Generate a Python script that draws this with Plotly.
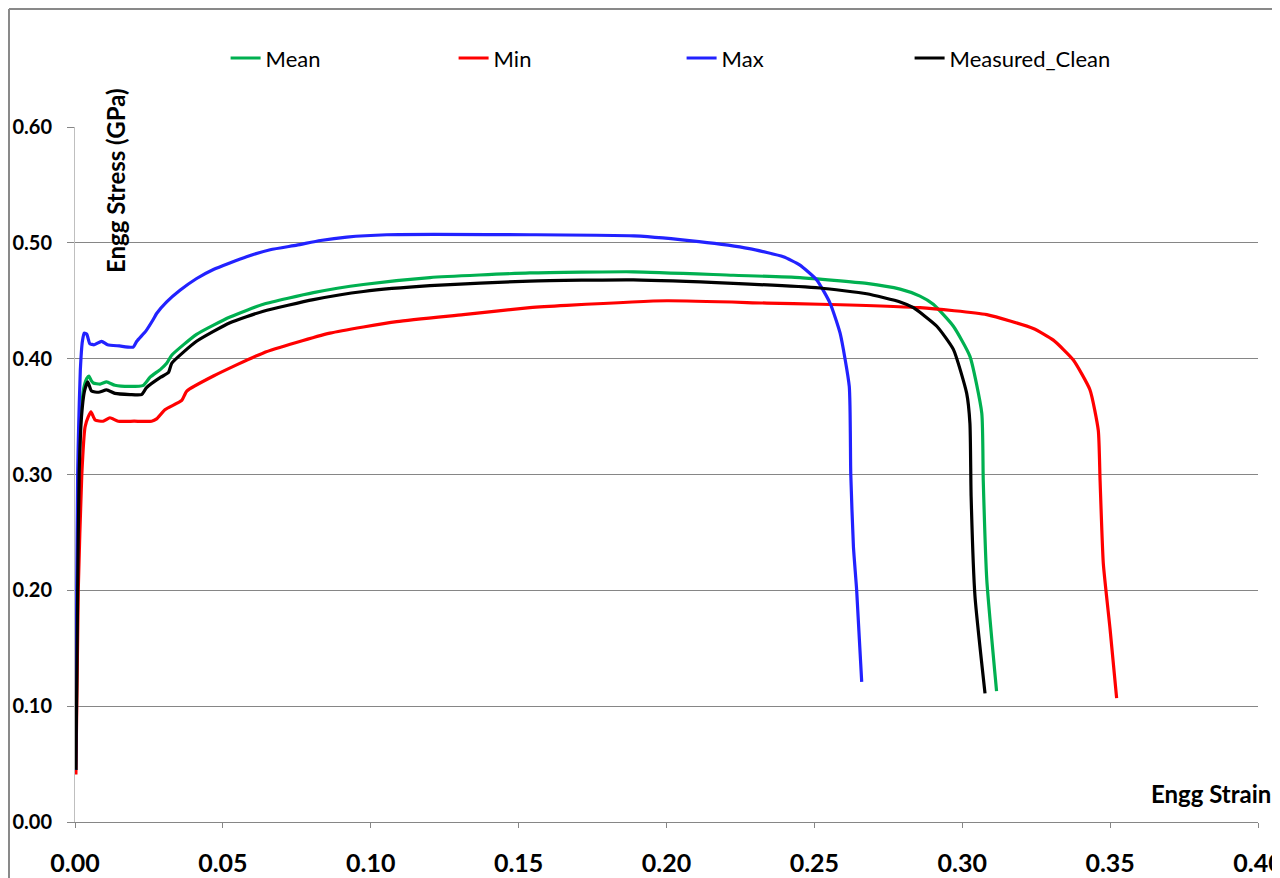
import plotly.graph_objects as go

# values (engineering strain, engineering stress in GPa)
mean_x = [0.0003, 0.0008, 0.0013, 0.0020, 0.0030, 0.0040, 0.0047, 0.0055, 0.0062, 0.0085, 0.0107, 0.0135,
          0.0186, 0.0231, 0.0254, 0.0290, 0.0310, 0.0327, 0.0411, 0.0524, 0.0637, 0.0806, 0.0975, 0.1200,
          0.1538, 0.1888, 0.2226, 0.2451, 0.2677, 0.2790, 0.2857, 0.2902, 0.2970, 0.3026, 0.3066, 0.3071,
          0.3083, 0.3116]
mean_y = [0.045, 0.200, 0.300, 0.350, 0.375, 0.383, 0.385, 0.381, 0.379, 0.378, 0.380, 0.377,
          0.376, 0.377, 0.384, 0.391, 0.396, 0.403, 0.421, 0.436, 0.447, 0.457, 0.464, 0.470,
          0.474, 0.475, 0.472, 0.470, 0.465, 0.460, 0.454, 0.447, 0.428, 0.402, 0.353, 0.295,
          0.209, 0.113]

min_x = [0.0003, 0.0011, 0.0023, 0.0034, 0.0045, 0.0054, 0.0068, 0.0095, 0.0118, 0.0146, 0.0200, 0.0259,
         0.0276, 0.0304, 0.0361, 0.0378, 0.0468, 0.0637, 0.0862, 0.1088, 0.1313, 0.1538, 0.1663, 0.2001,
         0.2339, 0.2519, 0.2857, 0.3083, 0.3240, 0.3308, 0.3375, 0.3432, 0.3460, 0.3466, 0.3477, 0.3500,
         0.3522]
min_y = [0.041, 0.200, 0.300, 0.341, 0.350, 0.354, 0.347, 0.346, 0.349, 0.346, 0.346, 0.346,
         0.348, 0.356, 0.364, 0.372, 0.385, 0.405, 0.422, 0.432, 0.438, 0.444, 0.446, 0.450,
         0.448, 0.447, 0.444, 0.438, 0.426, 0.416, 0.399, 0.373, 0.338, 0.295, 0.223, 0.166,
         0.107]

max_x = [0.0002, 0.0006, 0.0009, 0.0012, 0.0018, 0.0025, 0.0031, 0.0040, 0.0050, 0.0065, 0.0090, 0.0110,
         0.0150, 0.0197, 0.0209, 0.0240, 0.0265, 0.0276, 0.0310, 0.0355, 0.0410, 0.0468, 0.0580, 0.0660,
         0.0750, 0.0830, 0.0919, 0.1054, 0.1540, 0.1890, 0.2110, 0.2280, 0.2395, 0.2450, 0.2508, 0.2553,
         0.2587, 0.2618, 0.2623, 0.2632, 0.2643, 0.2660]
max_y = [0.045, 0.200, 0.300, 0.338, 0.390, 0.415, 0.422, 0.421, 0.413, 0.412, 0.415, 0.412,
         0.411, 0.410, 0.415, 0.424, 0.434, 0.439, 0.449, 0.459, 0.469, 0.477, 0.488, 0.494,
         0.498, 0.502, 0.505, 0.507, 0.507, 0.506, 0.501, 0.495, 0.488, 0.481, 0.468, 0.448,
         0.422, 0.376, 0.301, 0.238, 0.200, 0.121]

meas_x = [0.0003, 0.0009, 0.0014, 0.0022, 0.0032, 0.0043, 0.0056, 0.0080, 0.0107, 0.0135, 0.0186, 0.0225,
          0.0242, 0.0290, 0.0316, 0.0327, 0.0411, 0.0524, 0.0637, 0.0806, 0.0975, 0.1200, 0.1538, 0.1888,
          0.2226, 0.2519, 0.2677, 0.2790, 0.2835, 0.2914, 0.2970, 0.3015, 0.3026, 0.3030, 0.3043, 0.3077]
meas_y = [0.045, 0.200, 0.300, 0.350, 0.372, 0.380, 0.372, 0.371, 0.373, 0.370, 0.369, 0.369,
          0.375, 0.384, 0.388, 0.396, 0.415, 0.431, 0.441, 0.451, 0.458, 0.463, 0.467, 0.468,
          0.465, 0.461, 0.456, 0.449, 0.444, 0.428, 0.408, 0.370, 0.344, 0.281, 0.195, 0.111]

series = [
    ("Mean", mean_x, mean_y, "#00B050"),
    ("Min", min_x, min_y, "#FF0000"),
    ("Max", max_x, max_y, "#2222FF"),
    ("Measured_Clean", meas_x, meas_y, "#000000"),
]

x_ticks = [0.00, 0.05, 0.10, 0.15, 0.20, 0.25, 0.30, 0.35, 0.40]
y_ticks = [0.00, 0.10, 0.20, 0.30, 0.40, 0.50, 0.60]

fig = go.Figure()
for name, xs, ys, col in series:
    fig.add_trace(go.Scatter(x=xs, y=ys, name=name, mode="lines",
                             line=dict(color=col, width=3.2, shape="spline", smoothing=0.5)))

fig.update_xaxes(range=[0, 0.40], tickvals=x_ticks, ticktext=[f"{v:.2f}" for v in x_ticks],
                 showgrid=False, zeroline=False, showline=True, linecolor="#868686", linewidth=1,
                 ticks="outside", ticklen=5, tickcolor="#868686", ticklabelstandoff=14,
                 automargin=False, ticklabeloverflow="allow",
                 tickfont=dict(family="Lato", size=25, color="#000000", weight="bold"))
fig.update_yaxes(range=[0, 0.60], tickvals=y_ticks, ticktext=[f"{v:.2f}" for v in y_ticks],
                 showgrid=True, gridcolor="#868686", gridwidth=1, zeroline=False,
                 showline=True, linecolor="#BFBFBF", linewidth=1,
                 ticks="outside", ticklen=7, tickcolor="#868686", ticklabelstandoff=11,
                 automargin=False,
                 tickfont=dict(family="Lato", size=20, color="#000000", weight="bold"))

fig.add_annotation(text="<b>Engg Stress (GPa)</b>", xref="paper", yref="paper",
                   x=0.0338, y=0.9237, xanchor="center", yanchor="middle",
                   textangle=-90, showarrow=False,
                   font=dict(family="Lato", size=24, color="#000000"))
fig.add_annotation(text="<b>Engg Strain</b>", xref="paper", yref="paper",
                   x=0.9603, y=0.0417, xanchor="center", yanchor="middle", showarrow=False,
                   font=dict(family="Lato", size=24, color="#000000"))

# outer chart border (cropped at the right and bottom)
fig.add_shape(type="line", xref="paper", yref="paper", x0=-0.0558, x1=-0.0558, y0=-0.2, y1=1.1698,
              line=dict(color="#898989", width=2))
fig.add_shape(type="line", xref="paper", yref="paper", x0=-0.0558, x1=1.1, y0=1.1698, y1=1.1698,
              line=dict(color="#898989", width=2))

fig.update_layout(
    width=1280, height=878,
    margin=dict(l=67, r=30, t=119, b=64, autoexpand=False),
    plot_bgcolor="white", paper_bgcolor="white",
    showlegend=True,
    legend=dict(orientation="h", x=0.1273, y=1.099, xanchor="left", yanchor="middle",
                entrywidth=183, entrywidthmode="pixels",
                font=dict(family="Lato", size=22, color="#000000"),
                bgcolor="rgba(0,0,0,0)"),
)

fig.write_html("out.html")
